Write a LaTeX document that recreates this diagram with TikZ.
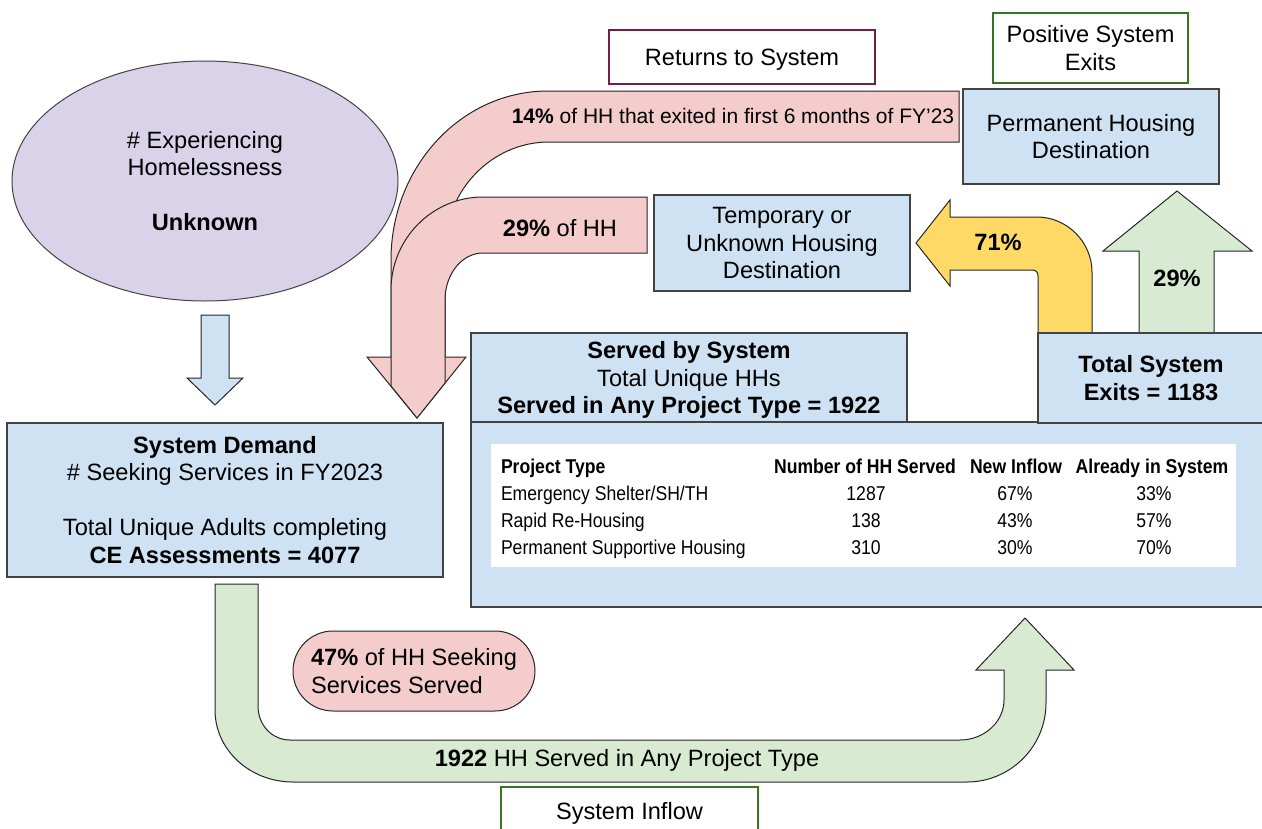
\documentclass[tikz,border=0pt]{standalone}
\usepackage{fontspec}
\setmainfont{Liberation Sans}
\newfontfamily\narrowfont[FakeStretch=0.88]{Liberation Sans}
\usetikzlibrary{shapes.geometric}

\definecolor{boxblue}{HTML}{CFE2F3}
\definecolor{flowpink}{HTML}{F4CCCC}
\definecolor{flowgreen}{HTML}{D9EAD3}
\definecolor{flowyellow}{HTML}{FFD966}
\definecolor{lavender}{HTML}{D9D2E9}
\definecolor{edgegray}{HTML}{434343}
\definecolor{returnred}{HTML}{741B47}
\definecolor{exitgreen}{HTML}{38761D}

\begin{document}
\begin{tikzpicture}[x=1pt,y=-1pt,
  every node/.style={font=\fontsize{23.6}{27.5}\selectfont, inner sep=0pt, outer sep=0pt},
  panel/.style={draw=edgegray, line width=1.4pt, fill=boxblue, align=center},
  tagbox/.style={draw=#1, line width=2pt, fill=white, align=center},
  flow/.style={draw=black!85, line width=1pt, fill=#1, line join=miter},
  cell/.style={font=\narrowfont\fontsize{20}{22}\selectfont, anchor=base},
  cellleft/.style={cell, anchor=base west},
]
\clip (0,0) rectangle (1262,828);
\fill[white] (0,0) rectangle (1262,828);

% ---- source: people experiencing homelessness
\node[ellipse, draw=edgegray, line width=1pt, fill=lavender,
      minimum width=386pt, minimum height=240pt, align=center] (homeless) at (205,181)
  {\# Experiencing\\Homelessness\\[27.5pt]\textbf{Unknown}};

% small down arrow into demand
\draw[flow=boxblue] (201,315) -- (229,315) -- (229,378) -- (243,378) -- (215,405)
  -- (187,378) -- (201,378) -- cycle;

% ---- returns to system (two bent arrows)
\draw[flow=flowpink] (959,91) -- (548,91) .. controls (461,91) and (391,167) .. (391,260)
  -- (391,357) -- (367,357) -- (417,418) -- (466,357) -- (445,357) -- (445,250)
  .. controls (445,190) and (492,142) .. (549,142) -- (959,142) -- cycle;
\draw[flow=flowpink] (647,197) -- (483,197) .. controls (432,197) and (391,239) .. (391,290)
  -- (391,386) -- (417,418) -- (445,383) -- (445,300)
  .. controls (445,274) and (462,253) .. (483,253) -- (647,253) -- cycle;
\node[font=\fontsize{21}{25}\selectfont] (retlong) at (733,116)
  {\textbf{14\%} of HH that exited in first 6 months of FY’23};
\node (retshort) at (560,228) {\textbf{29\%} of HH};

% ---- exits: bent arrow to temporary, straight arrow to permanent
\draw[flow=flowyellow] (950,217) -- (1037,217) .. controls (1067,217) and (1092,242) .. (1092,272)
  -- (1092,333) -- (1038,333) -- (1038,276) .. controls (1038,272) and (1036,270) .. (1032,270)
  -- (950,270) -- (950,286) -- (916,243) -- (950,200) -- cycle;
\node (tmpshare) at (998,242) {\textbf{71\%}};
\draw[flow=flowgreen] (1139,333) -- (1139,251) -- (1103,251) -- (1177,191) -- (1252,251)
  -- (1214,251) -- (1214,333) -- cycle;
\node (permshare) at (1177,278) {\textbf{29\%}};

% ---- inflow: U-shaped arrow from demand to served
\draw[flow=flowgreen] (215,584) -- (215,710) .. controls (215,750) and (250,782) .. (293,782)
  -- (967,782) .. controls (1010,782) and (1046,747) .. (1046,703) -- (1046,670)
  -- (1074,670) -- (1025,618) -- (976,670) -- (1004,670) -- (1004,700)
  .. controls (1004,722) and (984,740) .. (960,740) -- (290,740)
  .. controls (272,740) and (258,725) .. (258,706) -- (258,584) -- cycle;
\node (inflowtext) at (627,760) {\textbf{1922} HH Served in Any Project Type};

% ---- boxes
\node[tagbox=returnred, minimum width=266pt, minimum height=54pt, text depth=0pt] (returns) at (742,57) {Returns to System};
\node[tagbox=exitgreen, minimum width=195pt, minimum height=70pt] (positive) at (1090.5,48) {Positive System\\Exits};
\node[panel, minimum width=256pt, minimum height=95pt] (permanent) at (1091,136.5) {Permanent Housing\\Destination};
\node[panel, minimum width=256pt, minimum height=96pt] (temporary) at (782,243) {Temporary or\\Unknown Housing\\Destination};
\node[panel, minimum width=793pt, minimum height=185pt] (servedtable) at (867.5,514.5) {};
\node[panel, minimum width=436pt, minimum height=89pt] (served) at (689,377.5) {};
\node[align=center] (servedtext) at (689,380)
  {\textbf{Served by System}\\Total Unique HHs\\\textbf{Served in Any Project Type = 1922}};
\node[panel, minimum width=226pt, minimum height=90pt] (exits) at (1151,378)
  {\textbf{Total System}\\\textbf{Exits = 1183}};
\node[panel, minimum width=436pt, minimum height=154pt] (demand) at (225,500)
  {\textbf{System Demand}\\\# Seeking Services in FY2023\\[27.5pt]Total Unique Adults completing\\\textbf{CE Assessments = 4077}};
\node[draw=black!85, line width=1pt, fill=flowpink, rounded corners=40pt,
      minimum width=242pt, minimum height=80pt, align=left] (share) at (414,671)
  {\textbf{47\%} of HH Seeking\\Services Served};
\node[tagbox=exitgreen, minimum width=257pt, minimum height=48pt, text depth=0pt] (inflow) at (629.5,811) {System Inflow};

% ---- project type table
\node[fill=white, minimum width=745pt, minimum height=123pt] (tablebg) at (863.5,505.5) {};
\node[cellleft] (h1) at (501,473) {\textbf{Project Type}};
\node[cell] (h2) at (865,473) {\textbf{Number of HH Served}};
\node[cell] (h3) at (1016,473) {\textbf{New Inflow}};
\node[cell] (h4) at (1152,473) {\textbf{Already in System}};
\node[cellleft] (a1) at (501,500) {Emergency Shelter/SH/TH};
\node[cell] (a2) at (866,500) {1287};
\node[cell] (a3) at (1015,500) {67\%};
\node[cell] (a4) at (1154,500) {33\%};
\node[cellleft] (b1) at (501,527) {Rapid Re-Housing};
\node[cell] (b2) at (866,527) {138};
\node[cell] (b3) at (1015,527) {43\%};
\node[cell] (b4) at (1154,527) {57\%};
\node[cellleft] (c1) at (501,554) {Permanent Supportive Housing};
\node[cell] (c2) at (866,554) {310};
\node[cell] (c3) at (1015,554) {30\%};
\node[cell] (c4) at (1154,554) {70\%};
\end{tikzpicture}
\end{document}
